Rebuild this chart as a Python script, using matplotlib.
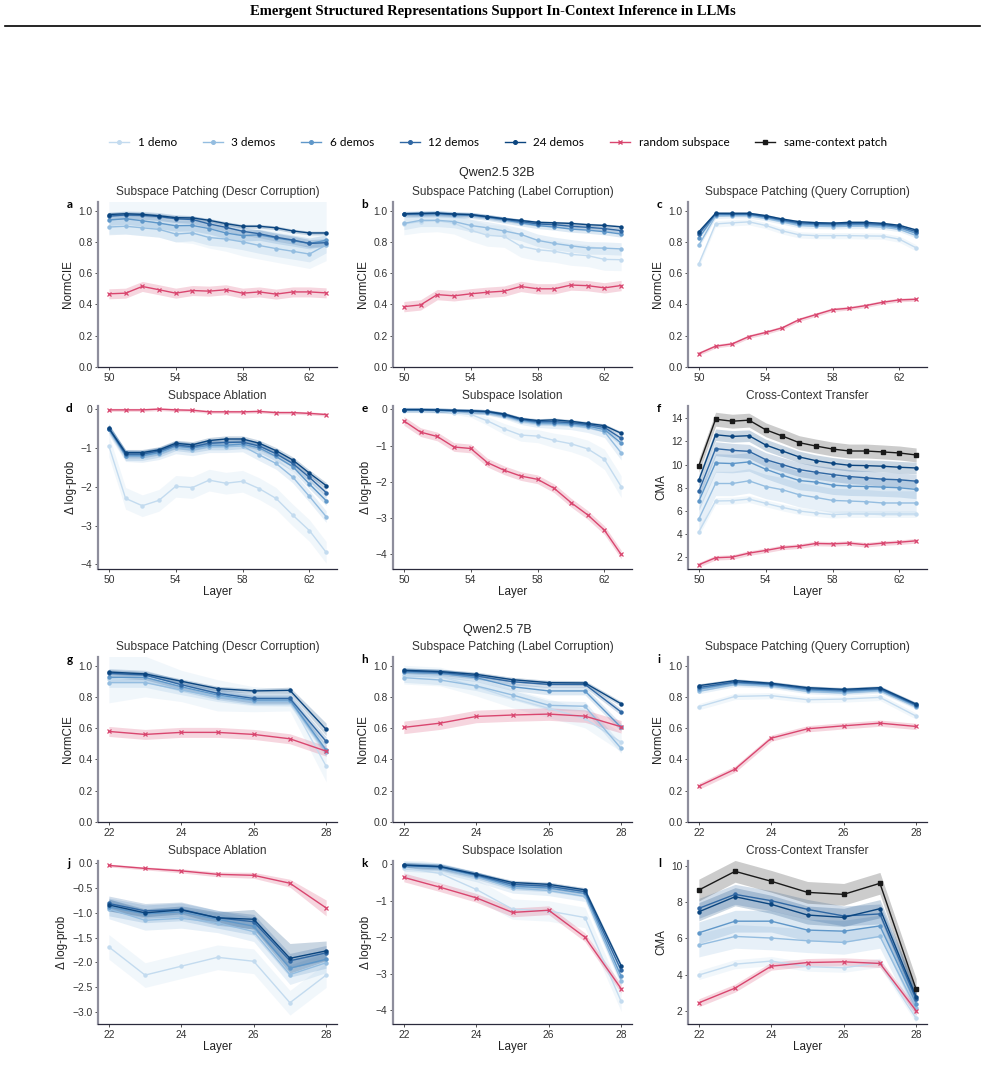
import numpy as np
import matplotlib
matplotlib.use("Agg")
import matplotlib.pyplot as plt
from matplotlib.lines import Line2D

plt.rcParams["font.family"] = ["Liberation Sans", "DejaVu Sans"]

W, H = 985, 1072
nan = float("nan")

# ── data ────────────────────────────────────────────────────────────
LAYERS_32B = list(range(50, 64))
LAYERS_7B = list(range(22, 29))

SERIES = ["1 demo", "3 demos", "6 demos", "12 demos", "24 demos",
          "random subspace", "same-context patch"]
COLORS = ["#c3dbef", "#94bde0", "#5f97c9", "#2f67a3", "#0b457f",
          "#d9466f", "#1a1a1a"]
MARKERS = ["o", "o", "o", "o", "o", "x", "s"]

# a: 32B, descr corruption (1 demo mean is off-scale; only its band shows)
panel_a = {
    "1 demo": [nan] * 14,
    "3 demos": [0.895, 0.90, 0.89, 0.88, 0.85, 0.857, 0.828, 0.818, 0.80, 0.777, 0.757, 0.74, 0.722, 0.78],
    "6 demos": [0.94, 0.948, 0.935, 0.92, 0.903, 0.905, 0.885, 0.857, 0.84, 0.845, 0.825, 0.808, 0.79, 0.81],
    "12 demos": [0.965, 0.972, 0.97, 0.962, 0.948, 0.943, 0.915, 0.893, 0.868, 0.852, 0.83, 0.812, 0.79, 0.795],
    "24 demos": [0.975, 0.98, 0.976, 0.967, 0.955, 0.953, 0.938, 0.917, 0.90, 0.90, 0.89, 0.87, 0.857, 0.857],
    "random subspace": [0.468, 0.472, 0.515, 0.494, 0.472, 0.489, 0.485, 0.494, 0.472, 0.48, 0.466, 0.48, 0.48, 0.474],
}
band_a = {
    "1 demo": ([0.85, 0.85, 0.84, 0.83, 0.80, 0.79, 0.76, 0.74, 0.71, 0.69, 0.67, 0.65, 0.63, 0.68], 1.1),
    "3 demos": 0.05, "6 demos": 0.035, "12 demos": 0.025, "24 demos": 0.012,
    "random subspace": 0.032,
}

# b: 32B, label corruption
panel_b = {
    "1 demo": [0.915, 0.93, 0.935, 0.92, 0.875, 0.842, 0.835, 0.772, 0.75, 0.74, 0.72, 0.712, 0.688, 0.686],
    "3 demos": [0.918, 0.938, 0.938, 0.93, 0.905, 0.89, 0.87, 0.848, 0.81, 0.79, 0.775, 0.762, 0.76, 0.755],
    "6 demos": [0.976, 0.978, 0.98, 0.974, 0.97, 0.957, 0.94, 0.922, 0.905, 0.895, 0.882, 0.875, 0.865, 0.85],
    "12 demos": [0.978, 0.98, 0.982, 0.976, 0.973, 0.96, 0.945, 0.93, 0.915, 0.91, 0.9, 0.893, 0.885, 0.872],
    "24 demos": [0.98, 0.982, 0.984, 0.978, 0.975, 0.962, 0.948, 0.937, 0.925, 0.922, 0.918, 0.91, 0.905, 0.896],
    "random subspace": [0.386, 0.397, 0.463, 0.455, 0.468, 0.478, 0.485, 0.515, 0.50, 0.50, 0.524, 0.52, 0.506, 0.521],
}
band_b = {"1 demo": 0.07, "3 demos": 0.04, "6 demos": 0.02, "12 demos": 0.015,
          "24 demos": 0.01, "random subspace": 0.033}

# c: 32B, query corruption
panel_c = {
    "1 demo": [0.66, 0.915, 0.922, 0.928, 0.905, 0.87, 0.845, 0.84, 0.84, 0.84, 0.838, 0.837, 0.817, 0.762],
    "3 demos": [0.78, 0.965, 0.968, 0.968, 0.95, 0.928, 0.905, 0.90, 0.898, 0.90, 0.90, 0.895, 0.88, 0.84],
    "6 demos": [0.825, 0.975, 0.975, 0.975, 0.958, 0.935, 0.915, 0.91, 0.908, 0.91, 0.91, 0.905, 0.89, 0.855],
    "12 demos": [0.85, 0.98, 0.978, 0.978, 0.962, 0.94, 0.922, 0.917, 0.915, 0.917, 0.917, 0.912, 0.898, 0.866],
    "24 demos": [0.865, 0.983, 0.983, 0.983, 0.968, 0.946, 0.929, 0.923, 0.92, 0.925, 0.925, 0.918, 0.906, 0.876],
    "random subspace": [0.086, 0.133, 0.148, 0.195, 0.221, 0.251, 0.303, 0.335, 0.367, 0.376, 0.393, 0.414, 0.429, 0.433],
}
band_c = {"1 demo": 0.02, "3 demos": 0.015, "6 demos": 0.012, "12 demos": 0.01,
          "24 demos": 0.008, "random subspace": 0.012}

# d: 32B, ablation
panel_d = {
    "1 demo": [-0.95, -2.3, -2.49, -2.35, -1.99, -2.02, -1.83, -1.91, -1.86, -2.05, -2.3, -2.73, -3.13, -3.69],
    "3 demos": [-0.52, -1.2, -1.22, -1.15, -1.0, -1.05, -0.97, -0.97, -0.95, -1.18, -1.4, -1.75, -2.25, -2.77],
    "6 demos": [-0.5, -1.2, -1.2, -1.12, -0.95, -1.0, -0.93, -0.93, -0.9, -1.0, -1.22, -1.48, -1.93, -2.36],
    "12 demos": [-0.5, -1.16, -1.16, -1.08, -0.92, -0.97, -0.88, -0.86, -0.85, -0.95, -1.15, -1.4, -1.76, -2.15],
    "24 demos": [-0.49, -1.12, -1.12, -1.05, -0.88, -0.92, -0.81, -0.77, -0.77, -0.88, -1.07, -1.31, -1.65, -1.97],
    "random subspace": [-0.02, -0.02, -0.02, 0.0, -0.02, -0.03, -0.07, -0.07, -0.07, -0.06, -0.09, -0.09, -0.11, -0.14],
}
band_d = {"1 demo": 0.28, "3 demos": 0.15, "6 demos": 0.12, "12 demos": 0.1,
          "24 demos": 0.08, "random subspace": 0.04}

# e: 32B, isolation
panel_e = {
    "1 demo": [-0.05, -0.05, -0.05, -0.09, -0.14, -0.32, -0.54, -0.71, -0.74, -0.86, -0.95, -1.09, -1.38, -2.13],
    "3 demos": [-0.03, -0.03, -0.04, -0.06, -0.07, -0.1, -0.18, -0.32, -0.4, -0.41, -0.44, -0.5, -0.62, -1.2],
    "6 demos": [-0.02, -0.02, -0.03, -0.05, -0.06, -0.08, -0.17, -0.3, -0.37, -0.38, -0.4, -0.46, -0.56, -0.93],
    "12 demos": [-0.01, -0.01, -0.02, -0.04, -0.05, -0.07, -0.15, -0.28, -0.34, -0.34, -0.37, -0.42, -0.5, -0.8],
    "24 demos": [-0.01, -0.01, -0.02, -0.03, -0.04, -0.06, -0.13, -0.26, -0.31, -0.29, -0.33, -0.39, -0.45, -0.66],
    "random subspace": [-0.32, -0.63, -0.75, -1.04, -1.08, -1.47, -1.68, -1.84, -1.93, -2.18, -2.57, -2.91, -3.33, -4.0],
}
band_e = {"1 demo": [0.03, 0.03, 0.04, 0.05, 0.08, 0.12, 0.15, 0.17, 0.18, 0.2, 0.22, 0.24, 0.28, 0.3],
          "3 demos": [0.02, 0.02, 0.03, 0.04, 0.05, 0.06, 0.08, 0.1, 0.1, 0.12, 0.12, 0.14, 0.16, 0.2],
          "6 demos": 0.07, "12 demos": 0.06, "24 demos": 0.05, "random subspace": 0.12}

# f: 32B, cross-context transfer
panel_f = {
    "1 demo": [4.2, 6.86, 6.89, 7.03, 6.66, 6.31, 6.0, 5.83, 5.69, 5.74, 5.74, 5.74, 5.74, 5.74],
    "3 demos": [5.31, 8.37, 8.37, 8.6, 8.11, 7.83, 7.4, 7.17, 6.91, 6.86, 6.8, 6.69, 6.69, 6.69],
    "6 demos": [6.86, 10.14, 10.09, 10.23, 9.6, 9.09, 8.63, 8.49, 8.23, 8.14, 8.11, 8.06, 8.0, 7.86],
    "12 demos": [7.69, 11.37, 11.23, 11.14, 10.43, 10.0, 9.57, 9.34, 9.14, 8.97, 8.86, 8.74, 8.69, 8.57],
    "24 demos": [8.66, 12.57, 12.43, 12.49, 11.69, 11.17, 10.66, 10.34, 10.11, 9.94, 9.91, 9.86, 9.77, 9.71],
    "random subspace": [1.37, 1.97, 2.03, 2.37, 2.6, 2.86, 2.97, 3.2, 3.17, 3.23, 3.09, 3.23, 3.31, 3.43],
    "same-context patch": [9.91, 13.91, 13.74, 13.83, 13.0, 12.46, 11.89, 11.6, 11.34, 11.17, 11.17, 11.09, 11.0, 10.83],
}
band_f = {"1 demo": 0.3, "3 demos": 1.05, "6 demos": 0.8, "12 demos": 0.6,
          "24 demos": 0.5, "random subspace": 0.2, "same-context patch": 0.6}

# g: 7B, descr corruption
panel_g = {
    "1 demo": [0.912, 0.93, 0.87, 0.81, 0.785, 0.78, 0.357],
    "3 demos": [0.891, 0.891, 0.844, 0.80, 0.774, 0.771, 0.449],
    "6 demos": [0.925, 0.925, 0.865, 0.812, 0.78, 0.78, 0.46],
    "12 demos": [0.951, 0.94, 0.878, 0.823, 0.79, 0.79, 0.515],
    "24 demos": [0.959, 0.947, 0.90, 0.853, 0.838, 0.842, 0.592],
    "random subspace": [0.579, 0.56, 0.573, 0.573, 0.56, 0.532, 0.453],
}
band_g = {"1 demo": [0.15, 0.13, 0.1, 0.1, 0.08, 0.07, 0.1],
          "3 demos": 0.03, "6 demos": 0.03, "12 demos": 0.03,
          "24 demos": [0.015, 0.015, 0.015, 0.015, 0.015, 0.02, 0.04],
          "random subspace": 0.032}

# h: 7B, label corruption
panel_h = {
    "1 demo": [0.942, 0.93, 0.866, 0.79, 0.727, 0.662, 0.51],
    "3 demos": [0.923, 0.908, 0.87, 0.812, 0.746, 0.74, 0.47],
    "6 demos": [0.957, 0.951, 0.923, 0.865, 0.838, 0.838, 0.605],
    "12 demos": [0.966, 0.957, 0.934, 0.897, 0.88, 0.88, 0.703],
    "24 demos": [0.97, 0.962, 0.944, 0.91, 0.891, 0.889, 0.756],
    "random subspace": [0.605, 0.632, 0.675, 0.684, 0.69, 0.677, 0.609],
}
band_h = {"1 demo": 0.06, "3 demos": 0.03, "6 demos": 0.025, "12 demos": 0.02,
          "24 demos": 0.015, "random subspace": 0.04}

# i: 7B, query corruption
panel_i = {
    "1 demo": [0.737, 0.803, 0.808, 0.782, 0.786, 0.797, 0.677],
    "3 demos": [0.835, 0.88, 0.87, 0.835, 0.825, 0.84, 0.737],
    "6 demos": [0.85, 0.89, 0.877, 0.845, 0.835, 0.847, 0.743],
    "12 demos": [0.86, 0.895, 0.882, 0.852, 0.842, 0.852, 0.748],
    "24 demos": [0.872, 0.904, 0.887, 0.859, 0.848, 0.859, 0.754],
    "random subspace": [0.229, 0.338, 0.536, 0.596, 0.615, 0.632, 0.611],
}
band_i = {"1 demo": 0.02, "3 demos": 0.015, "6 demos": 0.015, "12 demos": 0.015,
          "24 demos": 0.012, "random subspace": 0.02}

# j: 7B, ablation
panel_j = {
    "1 demo": [-1.69, -2.26, -2.08, -1.9, -1.98, -2.82, -2.26],
    "3 demos": [-0.92, -1.15, -1.11, -1.2, -1.38, -2.25, -2.01],
    "6 demos": [-0.88, -1.02, -0.98, -1.13, -1.27, -2.12, -1.94],
    "12 demos": [-0.81, -0.96, -0.93, -1.1, -1.18, -1.97, -1.81],
    "24 demos": [-0.84, -1.0, -0.94, -1.1, -1.13, -1.92, -1.77],
    "random subspace": [-0.04, -0.1, -0.15, -0.22, -0.24, -0.4, -0.9],
}
band_j = {"1 demo": 0.25, "3 demos": 0.2, "6 demos": 0.18, "12 demos": 0.15,
          "24 demos": [0.12, 0.08, 0.08, 0.12, 0.2, 0.3, 0.2],
          "random subspace": [0.03, 0.03, 0.04, 0.05, 0.06, 0.08, 0.16]}

# k: 7B, isolation
panel_k = {
    "1 demo": [-0.1, -0.25, -0.69, -1.23, -1.28, -1.46, -3.76],
    "3 demos": [-0.05, -0.1, -0.34, -0.65, -0.72, -0.88, -3.19],
    "6 demos": [-0.04, -0.08, -0.31, -0.6, -0.65, -0.8, -3.07],
    "12 demos": [-0.03, -0.07, -0.29, -0.55, -0.6, -0.75, -2.91],
    "24 demos": [-0.02, -0.06, -0.27, -0.5, -0.55, -0.7, -2.78],
    "random subspace": [-0.36, -0.63, -0.92, -1.32, -1.26, -2.0, -3.41],
}
band_k = {"1 demo": 0.28, "3 demos": 0.14, "6 demos": 0.1, "12 demos": 0.08,
          "24 demos": 0.06, "random subspace": 0.12}

# l: 7B, cross-context transfer
panel_l = {
    "1 demo": [3.97, 4.57, 4.74, 4.43, 4.37, 4.65, 1.58],
    "3 demos": [5.62, 6.1, 6.01, 5.86, 5.77, 6.1, 2.13],
    "6 demos": [6.3, 6.94, 6.94, 6.45, 6.39, 6.68, 2.4],
    "12 demos": [7.65, 8.42, 8.07, 7.59, 7.23, 7.34, 2.63],
    "24 demos": [7.46, 8.29, 7.87, 7.28, 7.15, 7.63, 2.77],
    "random subspace": [2.44, 3.25, 4.46, 4.66, 4.7, 4.61, 2.0],
    "same-context patch": [8.66, 9.69, 9.14, 8.53, 8.42, 9.03, 3.18],
}
band_l = {"1 demo": 0.25, "3 demos": 0.65, "6 demos": 0.6, "12 demos": 0.55,
          "24 demos": 0.5, "random subspace": 0.22, "same-context patch": 0.6}

TITLES = ["Subspace Patching (Descr Corruption)", "Subspace Patching (Label Corruption)",
          "Subspace Patching (Query Corruption)", "Subspace Ablation",
          "Subspace Isolation", "Cross-Context Transfer"]
YLABELS = ["NormCIE", "NormCIE", "NormCIE", "Δ log-prob", "Δ log-prob", "CMA"]


# ── helpers ─────────────────────────────────────────────────────────

def px_axes(fig, left, top, right, bottom):
    return fig.add_axes([left / W, 1 - bottom / H, (right - left) / W, (bottom - top) / H])


def draw_panel(ax, x, vals, bands):
    x = np.asarray(x)
    for name, color, marker in zip(SERIES, COLORS, MARKERS):
        if name not in vals:
            continue
        y = np.asarray(vals[name], float)
        b = bands[name]
        if isinstance(b, tuple):
            lo = np.broadcast_to(np.asarray(b[0], float), y.shape)
            hi = np.broadcast_to(np.asarray(b[1], float), y.shape)
        else:
            w = np.broadcast_to(np.asarray(b, float), y.shape)
            lo, hi = y - w, y + w
        ax.fill_between(x, lo, hi, color=color, alpha=0.22, lw=0)
        kw = dict(color=color, lw=1.0, marker=marker, ms=2.2)
        if marker == "x":
            kw.update(ms=2.6, mew=0.9)
        elif marker == "s":
            kw.update(ms=2.4)
        ax.plot(x, y, **kw)


def style(ax, title, ylabel, letter, xticks, yticks, ylim, xlabel=None):
    ax.set_title(title, fontsize=8.6, color="#333333", pad=5)
    ax.set_ylabel(ylabel, fontsize=8.4, color="#222222", labelpad=3)
    if xlabel:
        ax.set_xlabel(xlabel, fontsize=8.4, color="#222222", labelpad=1)
    ax.set_xticks(xticks)
    ax.set_yticks(yticks)
    ax.set_ylim(*ylim)
    ax.tick_params(labelsize=7.4, colors="#333333", length=2, width=0.6, pad=2)
    for s in ("top", "right"):
        ax.spines[s].set_visible(False)
    ax.spines["left"].set_color("#8e8e9c")
    ax.spines["left"].set_linewidth(1.6)
    ax.spines["bottom"].set_color("#2a2a3c")
    ax.spines["bottom"].set_linewidth(0.9)
    ax.text(-0.12, 0.985, letter, transform=ax.transAxes, fontsize=8.5,
            fontweight="bold", ha="center", va="center", family=["Lato", "DejaVu Sans"])


# ── figure ──────────────────────────────────────────────────────────

fig = plt.figure(figsize=(W / 100, H / 100), dpi=100)
fig.patch.set_facecolor("white")

fig.text(0.5, 1 - 12 / H, "Emergent Structured Representations Support In-Context Inference in LLMs",
         ha="center", va="center", fontsize=10.5, fontweight="bold",
         family=["Liberation Serif", "DejaVu Serif"])
fig.add_artist(Line2D([5 / W, 980 / W], [1 - 26 / H] * 2, color="black", lw=1.2))

COL_X = [(98, 337), (393, 632), (688, 927)]
ROW_Y = [(202, 367), (406, 569), (657, 822), (861, 1024)]

big = [panel_a, panel_b, panel_c, panel_d, panel_e, panel_f]
big_b = [band_a, band_b, band_c, band_d, band_e, band_f]
small = [panel_g, panel_h, panel_i, panel_j, panel_k, panel_l]
small_b = [band_g, band_h, band_i, band_j, band_k, band_l]

norm_ticks = [0.0, 0.2, 0.4, 0.6, 0.8, 1.0]
ylims_32 = [(0, 1.055), (0, 1.055), (0, 1.055), (-4.12, 0.08), (-4.4, 0.09), (1.0, 15.05)]
yticks_32 = [norm_ticks, norm_ticks, norm_ticks, [0, -1, -2, -3, -4], [0, -1, -2, -3, -4],
             [2, 4, 6, 8, 10, 12, 14]]
ylims_7 = [(0, 1.055), (0, 1.055), (0, 1.055), (-3.25, 0.05), (-4.38, 0.09), (1.27, 10.26)]
yticks_7 = [norm_ticks, norm_ticks, norm_ticks, [0.0, -0.5, -1.0, -1.5, -2.0, -2.5, -3.0],
            [0, -1, -2, -3, -4], [2, 4, 6, 8, 10]]
letters = "abcdefghijkl"

for i in range(6):
    r, c = divmod(i, 3)
    ax = px_axes(fig, COL_X[c][0], ROW_Y[r][0], COL_X[c][1], ROW_Y[r][1])
    draw_panel(ax, LAYERS_32B, big[i], big_b[i])
    style(ax, TITLES[i], YLABELS[i], letters[i], [50, 54, 58, 62], yticks_32[i], ylims_32[i],
          "Layer" if r == 1 else None)

for i in range(6):
    r, c = divmod(i, 3)
    ax = px_axes(fig, COL_X[c][0], ROW_Y[r + 2][0], COL_X[c][1], ROW_Y[r + 2][1])
    draw_panel(ax, LAYERS_7B, small[i], small_b[i])
    style(ax, TITLES[i], YLABELS[i], letters[i + 6], [22, 24, 26, 28], yticks_7[i], ylims_7[i],
          "Layer" if r == 1 else None)

fig.text(497 / W, 1 - 173 / H, "Qwen2.5 32B", ha="center", va="center", fontsize=9,
         color="#222222")
fig.text(497 / W, 1 - 630 / H, "Qwen2.5 7B", ha="center", va="center", fontsize=9,
         color="#222222")

handles = []
for name, color, marker in zip(SERIES, COLORS, MARKERS):
    ms = 3.0 if marker == "x" else 2.6
    handles.append(Line2D([], [], color=color, marker=marker, ms=ms, lw=1.0))
fig.legend(handles, SERIES, loc="center", bbox_to_anchor=(498 / W, 1 - 143 / H), ncol=7,
           frameon=False, handlelength=1.7, columnspacing=2.2, handletextpad=0.7,
           prop={"family": ["Lato", "DejaVu Sans"], "size": 8.5})

fig.savefig("out.png", dpi=100)
